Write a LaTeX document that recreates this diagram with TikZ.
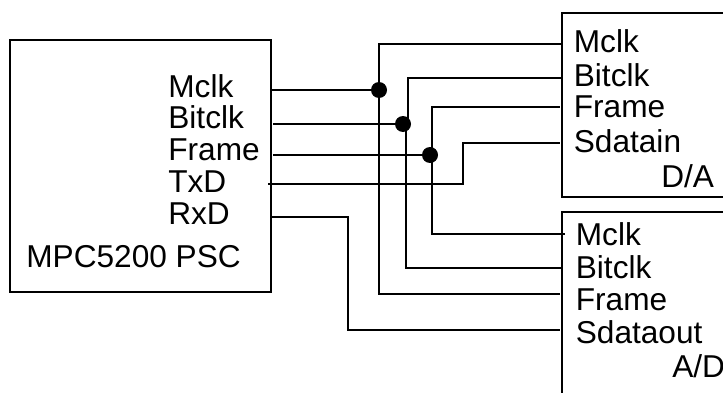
\documentclass[tikz,border=0pt]{standalone}
\usepackage{fontspec}
\setmainfont{Liberation Sans}
\usetikzlibrary{positioning}
\tikzset{
  pont/.style={circle,fill,inner sep=0pt,minimum size=0.32cm},
  dob/.style={draw,line width=1.25pt,inner sep=0pt},
  vez/.style={line width=1.25pt,line join=miter},
  felirat/.style={anchor=base west,inner sep=0pt,font=\fontsize{18}{20}\selectfont},
}
\begin{document}
\begin{tikzpicture}[x=0.02cm,y=-0.02cm]
  \clip (0,0) rectangle (723,392);
  % blocks
  \node[dob,minimum width=5.22cm,minimum height=5.04cm] (psc) at (140.5,166) {};
  \node[dob,minimum width=6cm,minimum height=3.68cm] (da) at (712,105) {};
  \node[dob,minimum width=6cm,minimum height=6cm] (ad) at (712,362) {};
  % texts
  \foreach \x/\y/\nev/\lab in {168/97/tm/Mclk, 168/128/tb/Bitclk, 168/160/tf/Frame, 168/192/tt/TxD, 168/224/tr/RxD,
    26/267/tp/{MPC5200 PSC},
    573.5/52/am/Mclk, 573.5/86/ab/Bitclk, 573.5/117/af/Frame, 573.5/152/as/Sdatain, 661/187/an/{D/A},
    575.5/245/bm/Mclk, 575.5/278/bb/Bitclk, 575.5/310/bf/Frame, 575.5/343/bs/Sdataout, 672/377/bn/{A/D}} {
    \node[felirat] (\nev) at (\x,\y) {\lab};
  }
  % junctions
  \node[pont] (jm) at (379,90) {};
  \node[pont] (jb) at (403,124) {};
  \node[pont] (jf) at (430,155) {};
  % wire ends
  \coordinate (pm) at (271,90);
  \coordinate (pb) at (273,124);
  \coordinate (pf) at (273,155);
  \coordinate (pt) at (268,184);
  \coordinate (pr) at (271,217);
  \coordinate (am0) at (562,44);
  \coordinate (ab0) at (562,78);
  \coordinate (af0) at (560,107);
  \coordinate (as0) at (560,143);
  \coordinate (bm0) at (565,234);
  \coordinate (bb0) at (562,268);
  \coordinate (bf0) at (560,294);
  \coordinate (bs0) at (560,330);
  \coordinate (ub) at (408,124);
  \coordinate (lb) at (406,124);
  \coordinate (uf) at (432,155);
  \coordinate (ut) at (463,184);
  \coordinate (ur) at (348,217);
  % wires
  \draw[vez] (pm) -- (jm);
  \draw[vez] (pb) -- (jb);
  \draw[vez] (pf) -- (jf);
  \draw[vez] (jm.center) |- (am0);
  \draw[vez] (jm.center) |- (bf0);
  \draw[vez] (ub) |- (ab0);
  \draw[vez] (lb) |- (bb0);
  \draw[vez] (uf) |- (af0);
  \draw[vez] (uf) |- (bm0);
  \draw[vez] (pt) -- (ut) |- (as0);
  \draw[vez] (pr) -- (ur) |- (bs0);
\end{tikzpicture}
\end{document}
